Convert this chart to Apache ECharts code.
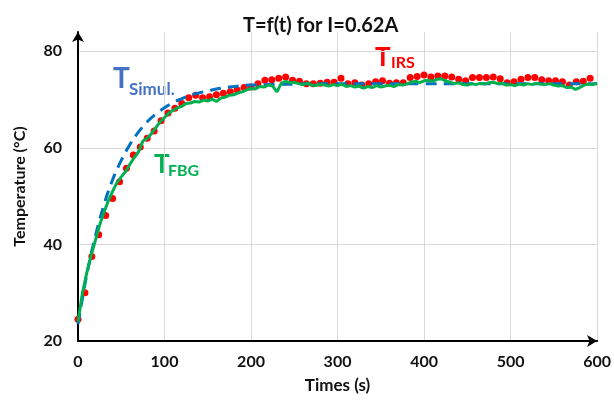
<!DOCTYPE html>
<html><head><meta charset="utf-8">
<script src="https://cdn.jsdelivr.net/npm/echarts@6/dist/echarts.min.js"></script>
<style>html,body{margin:0;padding:0;background:#fff}#c{width:614px;height:403px}</style>
</head><body><div id="c"></div>
<script>
var xTicks = [0, 100, 200, 300, 400, 500, 600];
var yTicks = [20, 40, 60, 80];

var tSim = [0,10,20,30,40,50,60,70,80,90,100,110,120,130,140,150,160,170,180,190,200,250,300,350,400,450,500,550,600];
var vSim = [23.5,33.6,41.7,48.2,53.4,57.4,60.7,63.3,65.4,67.0,68.3,69.4,70.2,70.9,71.4,71.8,72.2,72.5,72.7,72.9,73.0,73.2,73.3,73.3,73.3,73.3,73.3,73.3,73.3];

var tFBG = [0,5,10,15,20,25,30,35,40,45,50,55,60,65,70,75,80,85,90,95,100,105,110,115,120,125,130,135,140,145,150,155,160,165,170,175,180,185,190,195,200,205,210,215,220,225,230,235,240,245,250,255,260,265,270,275,280,285,290,295,300,305,310,315,320,325,330,335,340,345,350,355,360,365,370,375,380,385,390,395,400,405,410,415,420,425,430,435,440,445,450,455,460,465,470,475,480,485,490,495,500,505,510,515,520,525,530,535,540,545,550,555,560,565,570,575,580,585,590,595,600];
var vFBG = [24.0,29.8,34.0,37.6,40.8,44.0,46.6,49.0,51.0,52.8,54.0,55.1,56.6,58.0,59.2,61.4,62.0,63.0,64.2,65.4,66.3,67.2,67.8,68.3,68.6,69.2,69.3,69.6,69.5,69.9,69.7,70.1,69.6,70.3,70.5,70.9,71.0,71.4,71.6,72.0,72.3,72.2,72.7,72.6,73.0,72.8,71.6,73.4,73.8,73.5,73.6,73.3,73.1,73.4,73.0,72.9,73.2,73.0,72.8,73.1,72.9,73.2,72.7,72.9,72.6,72.8,72.4,72.7,72.5,72.9,72.6,72.8,73.0,72.7,73.1,73.0,73.2,73.6,73.8,73.5,73.9,74.0,73.8,74.2,74.3,73.9,73.6,73.3,73.5,73.1,73.0,73.3,73.1,73.4,73.2,73.5,73.6,73.3,73.4,73.0,73.1,72.9,73.2,73.0,73.3,73.1,73.4,73.2,73.1,73.3,73.0,72.8,72.9,72.5,72.6,72.1,72.5,73.0,73.2,73.1,73.4];

var tIRS = [0,8,16,24,32,40,48,56,64,72,80,88,96,104,112,120,128,136,144,152,160,168,176,184,192,200,208,216,224,232,240,248,256,264,272,280,288,296,304,312,320,328,336,344,352,360,368,376,384,392,400,408,416,424,432,440,448,456,464,472,480,488,496,504,512,520,528,536,544,552,560,568,576,584,592];
var vIRS = [24.5,30.0,37.5,42.0,46.0,49.5,53.0,55.8,58.5,60.2,62.0,63.5,65.6,67.2,68.2,69.2,70.4,70.9,70.4,70.6,71.0,71.3,71.6,72.0,72.5,72.6,73.3,74.0,74.1,74.4,74.7,74.0,73.8,73.3,73.3,73.4,73.6,73.6,74.4,73.3,73.5,73.0,73.3,73.7,73.9,73.4,73.5,73.5,74.6,74.8,75.1,74.7,74.9,74.9,74.7,74.2,73.9,74.6,74.6,74.6,74.7,74.3,73.5,73.7,74.2,74.6,74.6,74.1,73.9,73.9,73.7,73.0,73.7,73.8,74.4];

function pairs(t, v) { return t.map(function (x, i) { return [x, v[i]]; }); }

var FONT = 'Lato';
var chart = echarts.init(document.getElementById('c'), null, {renderer: 'canvas'});
chart.setOption({
  animation: false,
  backgroundColor: '#fff',
  title: {
    text: 'T=f(t) for I=0.62A', left: 238, top: 11,
    textStyle: {fontFamily: FONT, fontWeight: 'bold', fontSize: 20, color: '#111'}
  },
  grid: {left: 78, right: 14, top: 32, bottom: 62},
  xAxis: {
    type: 'value', min: xTicks[0], max: xTicks[xTicks.length - 1], interval: 100,
    name: 'Times (s)', nameLocation: 'middle', nameGap: 36,
    nameTextStyle: {fontFamily: FONT, fontWeight: 'bold', fontSize: 17, color: '#111'},
    axisLine: {show: true, symbol: ['none', 'arrow'], symbolSize: [9, 10], lineStyle: {color: '#000', width: 2}},
    axisTick: {show: false},
    axisLabel: {fontFamily: FONT, fontWeight: 'bold', fontSize: 16, color: '#111', margin: 13},
    splitLine: {show: true, lineStyle: {color: '#d9d9d9', width: 1}}
  },
  yAxis: {
    type: 'value', min: yTicks[0], max: 84, interval: 20,
    name: 'Temperature (°C)', nameLocation: 'middle', nameGap: 50,
    nameTextStyle: {fontFamily: FONT, fontWeight: 'bold', fontSize: 16, color: '#111'},
    axisLine: {show: true, symbol: ['none', 'arrow'], symbolSize: [9, 10], lineStyle: {color: '#000', width: 2}},
    axisTick: {show: false},
    axisLabel: {fontFamily: FONT, fontWeight: 'bold', fontSize: 16, color: '#111', margin: 16, showMaxLabel: false},
    splitLine: {show: true, showMaxLine: false, lineStyle: {color: '#d9d9d9', width: 1}}
  },
  series: [
    {name: 'IRS', type: 'scatter', data: pairs(tIRS, vIRS), symbol: 'circle', symbolSize: 7,
     itemStyle: {color: '#ff0000', opacity: 1}, z: 2},
    {name: 'Simul', type: 'line', data: pairs(tSim, vSim), smooth: 0.4, showSymbol: false,
     lineStyle: {color: '#0070c0', width: 3, type: [11, 7]}, z: 3},
    {name: 'FBG', type: 'line', data: pairs(tFBG, vFBG), showSymbol: false,
     lineStyle: {color: '#00b050', width: 3}, z: 4}
  ],
  graphic: [
    {type: 'text', left: 113, top: 65, style: {text: 'T', fontFamily: FONT, fontWeight: 'bold', fontSize: 28, fill: '#4472c4'}},
    {type: 'text', left: 129, top: 81, style: {text: 'Simul.', fontFamily: FONT, fontWeight: 'bold', fontSize: 17, fill: '#4472c4'}},
    {type: 'text', left: 154, top: 152, style: {text: 'T', fontFamily: FONT, fontWeight: 'bold', fontSize: 26, fill: '#00b050'}},
    {type: 'text', left: 168, top: 163, style: {text: 'FBG', fontFamily: FONT, fontWeight: 'bold', fontSize: 16, fill: '#00b050'}},
    {type: 'text', left: 375, top: 45, style: {text: 'T', fontFamily: FONT, fontWeight: 'bold', fontSize: 26, fill: '#ff0000'}},
    {type: 'text', left: 391, top: 55, style: {text: 'IRS', fontFamily: FONT, fontWeight: 'bold', fontSize: 16, fill: '#ff0000'}}
  ]
});
</script></body></html>
